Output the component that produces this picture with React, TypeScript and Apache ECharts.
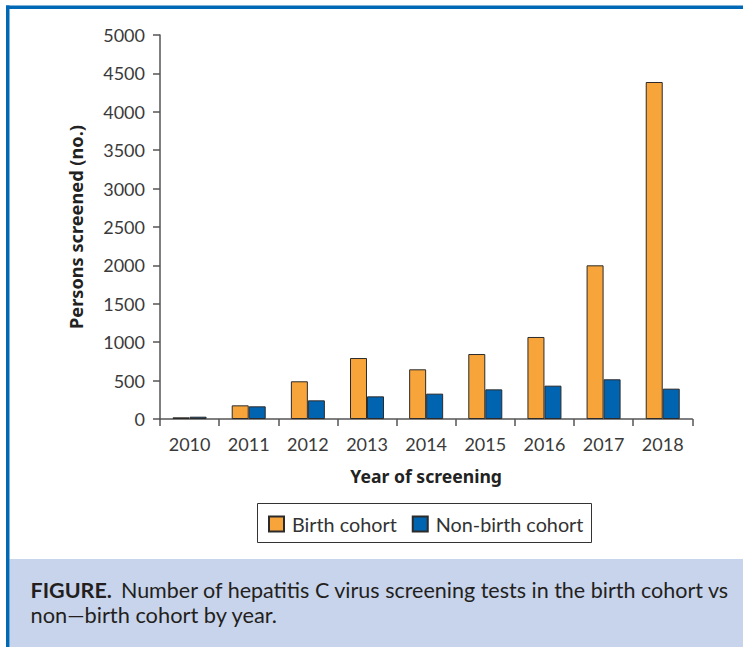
import React, { useEffect, useRef } from "react";
import * as echarts from "echarts";

const years = ["2010", "2011", "2012", "2013", "2014", "2015", "2016", "2017", "2018"];
const birthCohort = [22, 178, 491, 794, 647, 846, 1068, 2001, 4388];
const nonBirthCohort = [30, 165, 243, 295, 330, 386, 434, 517, 395];
const seriesNames = ["Birth cohort", "Non-birth cohort"];
const captionBold = "FIGURE.";
const captionLine1 = "Number of hepatitis C virus screening tests in the birth cohort vs";
const captionLine2 = "non\u2014birth cohort by year.";

const FONT = "Lato, 'Open Sans', sans-serif";
const BOLD_FONT = "'Noto Sans', 'Open Sans', sans-serif";

export default function App() {
  const ref = useRef<HTMLDivElement>(null);
  useEffect(() => {
    if (!ref.current) return;
    const chart = echarts.init(ref.current, undefined, { renderer: "svg" });
    const barStyle = (color: string) => ({ color, borderColor: "#2b2b2b", borderWidth: 1 });
    chart.setOption({
      animation: false,
      backgroundColor: "#ffffff",
      grid: { left: 160, right: 50.7, top: 35, bottom: 228 },
      legend: {
        left: 268,
        top: 514,
        padding: 0,
        itemWidth: 15,
        itemHeight: 15,
        itemGap: 15,
        icon: "rect",
        textStyle: { fontFamily: FONT, fontSize: 19.8, color: "#333", padding: [0, 0, 0, 3] },
        data: seriesNames,
      },
      xAxis: {
        type: "category",
        data: years,
        boundaryGap: true,
        axisLine: { lineStyle: { color: "#555", width: 1.5 } },
        axisTick: { show: true, length: 7, lineStyle: { color: "#555", width: 1.5 } },
        axisLabel: { fontFamily: FONT, fontSize: 18, color: "#3a3a3a", margin: 16 },
        name: "Year of screening",
        nameLocation: "middle",
        nameGap: 48,
        nameTextStyle: { fontFamily: BOLD_FONT, fontWeight: "bold", fontSize: 17.6, color: "#222" },
      },
      yAxis: {
        type: "value",
        min: 0,
        max: 5000,
        interval: 500,
        splitLine: { show: false },
        axisLine: { show: true, lineStyle: { color: "#555", width: 1.5 } },
        axisTick: { show: true, length: 7, lineStyle: { color: "#555", width: 1.5 } },
        axisLabel: {
          fontFamily: FONT,
          fontSize: 18,
          color: "#3a3a3a",
          margin: 15,
          formatter: (v: number) => String(v),
        },
        name: "Persons screened (no.)",
        nameLocation: "middle",
        nameGap: 75,
        nameTextStyle: { fontFamily: BOLD_FONT, fontWeight: "bold", fontSize: 18.2, color: "#222" },
      },
      series: [
        { name: seriesNames[0], type: "bar", data: birthCohort, barWidth: 17, barGap: "0%", itemStyle: barStyle("#F7A43B") },
        { name: seriesNames[1], type: "bar", data: nonBirthCohort, barWidth: 17, barGap: "0%", itemStyle: barStyle("#0064B1") },
      ],
      graphic: [
        { type: "rect", shape: { x: 6, y: 5.5, width: 737, height: 3.5 }, style: { fill: "#0068B4" }, z: 10 },
        { type: "rect", shape: { x: 6, y: 5.5, width: 3.5, height: 642 }, style: { fill: "#0068B4" }, z: 10 },
        { type: "rect", shape: { x: 9.5, y: 559, width: 734, height: 88 }, style: { fill: "#C8D4EB" }, z: 1 },
        { type: "rect", shape: { x: 257.5, y: 503.5, width: 334, height: 39 }, style: { fill: "none", stroke: "#333", lineWidth: 1 }, z: 1 },
        {
          type: "text", x: 30.5, y: 590, z: 5,
          style: {
            text: "{b|" + captionBold + "}{r|" + captionLine1 + "}",
            verticalAlign: "middle",
            rich: {
              b: { fontFamily: FONT, fontWeight: "bold", fontSize: 21.5, fill: "#231F20", padding: [0, 9, 0, 0] },
              r: { fontFamily: FONT, fontSize: 21.5, fill: "#231F20" },
            },
          },
        },
        {
          type: "text", x: 30.5, y: 614, z: 5,
          style: { text: captionLine2, verticalAlign: "middle", fontFamily: FONT, fontSize: 21.8, fill: "#231F20" },
        },
      ],
    });
    return () => chart.dispose();
  }, []);
  return <div ref={ref} style={{ position: "fixed", left: 0, top: 0, width: 743, height: 647 }} />;
}
